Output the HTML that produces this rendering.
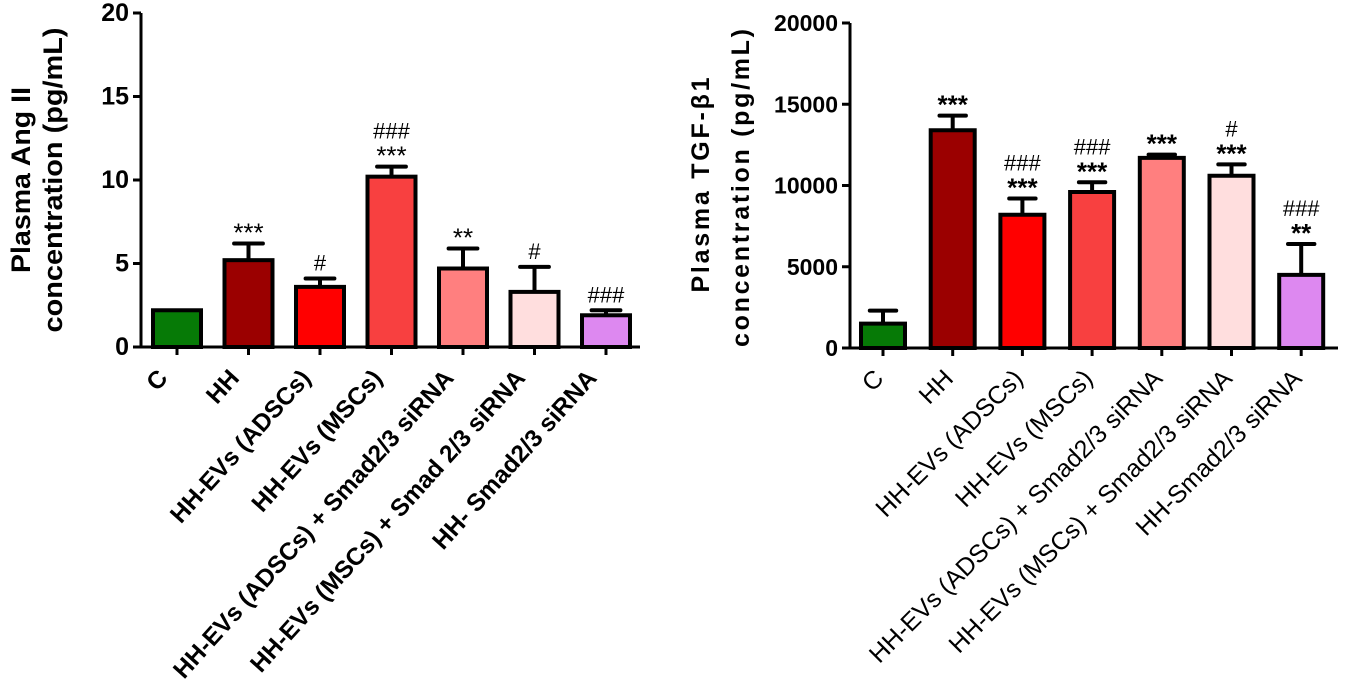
<!DOCTYPE html>
<html><head><meta charset="utf-8"><style>
body{margin:0;background:#fff}
svg{display:block;font-family:"Liberation Sans",Arial,sans-serif}
</style></head><body>
<svg id="chart" width="1350" height="682" viewBox="0 0 1350 682" xmlns="http://www.w3.org/2000/svg">
<text transform="translate(30,180) rotate(-90)" text-anchor="middle" font-size="27" font-weight="bold" textLength="186" lengthAdjust="spacingAndGlyphs">Plasma Ang II</text>
<text transform="translate(62,180) rotate(-90)" text-anchor="middle" font-size="27" font-weight="bold" textLength="305" lengthAdjust="spacingAndGlyphs">concentration (pg/mL)</text>
<text transform="translate(709,185) rotate(-90)" text-anchor="middle" font-size="25" font-weight="bold" textLength="215" lengthAdjust="spacing">Plasma TGF-β1</text>
<text transform="translate(749,188) rotate(-90)" text-anchor="middle" font-size="25" font-weight="bold" textLength="318" lengthAdjust="spacing">concentration (pg/mL)</text>
</svg>
<script>
const leftCats=["C","HH","HH-EVs (ADSCs)","HH-EVs (MSCs)","HH-EVs (ADSCs) + Smad2/3 siRNA","HH-EVs (MSCs) + Smad 2/3 siRNA","HH- Smad2/3 siRNA"];
const leftVals=[2.2,5.2,3.6,10.2,4.7,3.3,1.9];
const leftErr=[0,1.0,0.5,0.6,1.2,1.5,0.3];
const leftSig1=["","***","#","***","**","#","###"];
const leftSig2=["","","","###","","",""];
const leftTicks=[0,5,10,15,20];
const rightCats=["C","HH","HH-EVs (ADSCs)","HH-EVs (MSCs)","HH-EVs (ADSCs) + Smad2/3 siRNA","HH-EVs (MSCs) + Smad2/3 siRNA","HH-Smad2/3 siRNA"];
const rightVals=[1500,13400,8200,9600,11700,10600,4500];
const rightErr=[800,900,1000,600,200,700,1900];
const rightSig1=["","***","***","***","***","***","**"];
const rightSig2=["","","###","###","","#","###"];
const rightTicks=[0,5000,10000,15000,20000];
const colors=["#067a06","#9b0000","#ff0000","#f84040","#ff7f7f","#ffdede","#dd88f0"];
const NS="http://www.w3.org/2000/svg";
const svg=document.getElementById('chart');
function mk(tag,attrs,parent){const e=document.createElementNS(NS,tag);for(const k in attrs)e.setAttribute(k,attrs[k]);(parent||svg).appendChild(e);return e;}
function draw(cfg){
  const g=mk('g',{});
  
  
  const y=v=>cfg.y0-(v/cfg.max)*(cfg.y0-cfg.yTop);
  const x=i=>cfg.x0+cfg.step*i;
  cfg.vals.forEach((v,i)=>{
    const top=y(v+cfg.err[i]);
    if(cfg.err[i]>0){
      const eb=mk('line',{x1:x(i),x2:x(i),y1:y(v),y2:top,stroke:'#000','stroke-width':4},g);
      
      
      const cap=mk('line',{x1:x(i)-cfg.bw*0.3,x2:x(i)+cfg.bw*0.3,y1:top,y2:top,stroke:'#000','stroke-width':4,'stroke-linecap':'round'},g);
      
      
    }
    const r=mk('rect',{x:x(i)-cfg.bw/2,y:y(v),width:cfg.bw,height:cfg.y0-y(v),fill:colors[i],stroke:'#000','stroke-width':4},g);
    
    
    if(cfg.sig1[i]){
      const t=mk('text',{x:x(i),y:top-(cfg.sig1[i][0]=='*'?2:8),'text-anchor':'middle','font-size':cfg.sig1[i][0]=='*'?26:22,'font-weight':cfg.bold?'normal':'bold'},g);
      t.textContent=cfg.sig1[i];
      
      
    }
    if(cfg.sig2[i]){
      const t=mk('text',{x:x(i),y:top-(cfg.sig1[i]?28:8),'text-anchor':'middle','font-size':22},g);
      t.textContent=cfg.sig2[i];
      
      
    }
    const tk=mk('line',{x1:x(i),x2:x(i),y1:cfg.y0,y2:cfg.y0+8,stroke:'#000','stroke-width':3},g);
    
    
    const lb=mk('text',{transform:`translate(${x(i)+cfg.ldx},${cfg.y0+cfg.ldy}) rotate(${cfg.angle})`,'text-anchor':'end','font-size':cfg.lfs,'font-weight':cfg.bold?'bold':'normal'},g);
    lb.textContent=cfg.cats[i];
    
    
  });
  const ya=mk('line',{x1:cfg.ax,x2:cfg.ax,y1:cfg.yTop,y2:cfg.y0+1.5,stroke:'#000','stroke-width':3},g);
  
  
  const xa=mk('line',{x1:cfg.ax,x2:cfg.xEnd,y1:cfg.y0,y2:cfg.y0,stroke:'#000','stroke-width':3},g);
  
  
  cfg.ticks.forEach(t=>{
    const l=mk('line',{x1:cfg.ax-8,x2:cfg.ax,y1:y(t),y2:y(t),stroke:'#000','stroke-width':3},g);
    
    
    const tx=mk('text',{x:cfg.ax-12,y:y(t)+8,'text-anchor':'end','font-size':cfg.tfs,'font-weight':'bold'},g);
    tx.textContent=t;
    
    
  });
}
draw({name:'ang-ii-chart',cats:leftCats,vals:leftVals,err:leftErr,sig1:leftSig1,sig2:leftSig2,ticks:leftTicks,max:20,y0:347,yTop:13,ax:141,xEnd:640,x0:177,step:71.5,bw:48,angle:-48,bold:true,lfs:24.5,tfs:25,ldx:-8,ldy:32});
draw({name:'tgf-b1-chart',cats:rightCats,vals:rightVals,err:rightErr,sig1:rightSig1,sig2:rightSig2,ticks:rightTicks,max:20000,y0:348,yTop:23,ax:850,xEnd:1338,x0:883,step:69.7,bw:44,angle:-45,bold:false,lfs:25,tfs:23,ldx:2,ldy:32});
</script>
</body></html>
